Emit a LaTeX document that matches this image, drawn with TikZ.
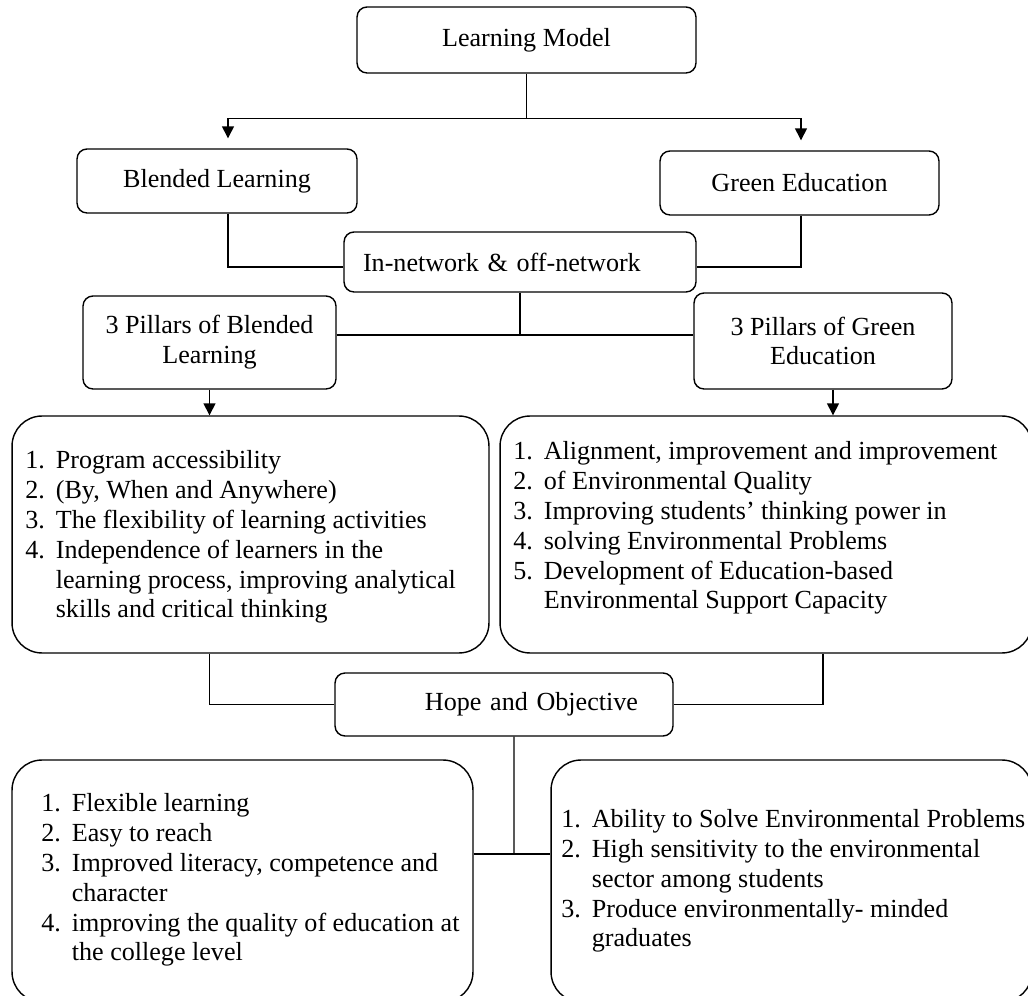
\documentclass[tikz,border=0pt]{standalone}
\usepackage{fontspec}
\setmainfont{Liberation Serif}
\usetikzlibrary{arrows.meta}
\usetikzlibrary{positioning}

\newcommand{\numline}[2]{\makebox[0.61cm][l]{#1}#2}

\tikzset{
	box/.style={draw, line width=0.8pt, rounded corners=0.2cm, align=center, inner sep=0pt, font=\fontsize{14.85pt}{17pt}\selectfont},
	bigbox/.style={draw, line width=0.8pt, rounded corners=0.6cm, inner sep=0pt},
	listtext/.style={anchor=west, align=left, inner sep=0pt, font=\fontsize{14.85pt}{17pt}\selectfont},
	link/.style={line width=0.8pt},
	arr/.style={line width=0.8pt, -{Triangle[length=0.24cm,width=0.24cm]}}
}

\begin{document}
\begin{tikzpicture}[x=0.02cm,y=-0.02cm]
	\useasboundingbox (0,0) rectangle (1028,996);
	\clip (0,0) rectangle (1028,996);
	% top level
	\node[box, minimum width=6.78cm, minimum height=1.32cm] (model) at (526.5,40) {Learning Model};
	\node[box, minimum width=5.6cm, minimum height=1.28cm] (blended) at (217,181) {Blended Learning};
	\node[box, minimum width=5.58cm, minimum height=1.28cm] (green) at (799.5,183) {Green Education};
	\node[box, minimum height=1.2cm, text width=6.28cm, inner xsep=0.38cm, align=left] (network) at (520,262) {In-network \& off-network};
	% pillars
	\node[box, minimum width=5.06cm, minimum height=1.86cm] (pillB) at (209.5,342.5) {3 Pillars of Blended\\Learning};
	\node[box, minimum width=5.16cm, minimum height=1.92cm] (pillG) at (823,341) {3 Pillars of Green\\Education};
	\node[bigbox, minimum width=9.54cm, minimum height=4.74cm] (listB) at (250.5,534.5) {};
	\node[bigbox, minimum width=10.64cm, minimum height=4.74cm] (listG) at (766,534.5) {};
	\node[listtext] (listBtext) at (25,537) {%
		\numline{1.}{Program accessibility}\\
		\numline{2.}{(By, When and Anywhere)}\\
		\numline{3.}{The flexibility of learning activities}\\
		\numline{4.}{Independence of learners in the}\\
		\numline{}{learning process, improving analytical}\\
		\numline{}{skills and critical thinking}};
	\node[listtext] (listGtext) at (513,528) {%
		\numline{1.}{Alignment, improvement and improvement}\\
		\numline{2.}{of Environmental Quality}\\
		\numline{3.}{Improving students' thinking power in}\\
		\numline{4.}{solving Environmental Problems}\\
		\numline{5.}{Development of Education-based}\\
		\numline{}{Environmental Support Capacity}};
	% hope and objective
	\node[box, minimum height=1.26cm, text width=5.36cm, inner xsep=0.7cm, align=right] (hope) at (504,704.5) {Hope and Objective};
	\node[bigbox, minimum width=9.22cm, minimum height=4.84cm] (hopeB) at (242.5,881) {};
	\node[bigbox, minimum width=9.62cm, minimum height=4.84cm] (hopeG) at (791.5,881) {};
	\node[listtext] (hopeBtext) at (41,880) {%
		\numline{1.}{Flexible learning}\\
		\numline{2.}{Easy to reach}\\
		\numline{3.}{Improved literacy, competence and}\\
		\numline{}{character}\\
		\numline{4.}{improving the quality of education at}\\
		\numline{}{the college level}};
	\node[listtext] (hopeGtext) at (561,881) {%
		\numline{1.}{Ability to Solve Environmental Problems}\\
		\numline{2.}{High sensitivity to the environmental}\\
		\numline{}{sector among students}\\
		\numline{3.}{Produce environmentally- minded}\\
		\numline{}{graduates}};
	% connectors
	\draw[link] (model.south) -- ++(0,45) coordinate (split);
	\draw[arr] (split) -| ([xshift=0.22cm,yshift=0.2cm]blended.north);
	\draw[arr] (split) -| ([xshift=0.03cm,yshift=0.2cm]green.north);
	\draw[link] ([xshift=0.22cm]blended.south) |- ([yshift=-0.1cm]network.west);
	\draw[link] ([xshift=0.03cm]green.south) |- ([yshift=-0.1cm]network.east);
	\coordinate (join1) at (520,335);
	\draw[link] (network.south) -- (join1);
	\draw[link] (pillB.east |- join1) -- (pillG.west |- join1);
	\draw[arr] (pillB.south) -- (pillB.south |- listB.north);
	\draw[arr] ([xshift=0.2cm]pillG.south) -- ([xshift=0.2cm]pillG.south |- listG.north);
	\draw[link] (pillB.south |- listB.south) |- (hope.west);
	\draw[link] (pillG.south |- listG.south) |- (hope.east);
	\coordinate (join2) at (514,854);
	\draw[link] ([xshift=0.2cm]hope.south) -- (join2);
	\draw[link] (hopeB.east |- join2) -- (hopeG.west |- join2);
\end{tikzpicture}
\end{document}
